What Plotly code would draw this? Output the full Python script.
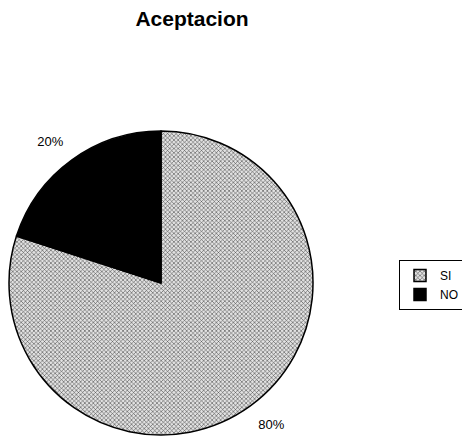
import plotly.graph_objects as go

labels = ["SI", "NO"]
values = [80, 20]
colors = ["#a8a8a8", "#000000"]
label_templates = ["\u00a0<br>%{percent:.0%}", "%{percent:.0%}<br>\u00a0"]

W, H = 462, 436
cx, cy, r = 161, 283, 152

fig = go.Figure(go.Pie(
    labels=labels,
    values=values,
    sort=False,
    direction="clockwise",
    rotation=0,
    textinfo="percent",
    texttemplate=label_templates,
    textposition="outside",
    textfont=dict(family="Liberation Sans, Arial", size=13, color="black"),
    marker=dict(
        colors=colors,
        line=dict(color="black", width=1.5),
        pattern=dict(shape=["x", ""], fgcolor="#444444", bgcolor="#e2e2e2",
                     size=3, solidity=0.33),
    ),
    domain=dict(x=[(cx - r) / W, (cx + r) / W], y=[(H - cy - r) / H, (H - cy + r) / H]),
    showlegend=True,
    hoverinfo="label+percent",
))

fig.update_layout(
    width=W, height=H,
    margin=dict(l=0, r=0, t=0, b=0, autoexpand=False),
    paper_bgcolor="white",
    plot_bgcolor="white",
    title=dict(text="<b>Aceptacion</b>", x=192 / W, xanchor="center",
               y=1 - 19 / H, yanchor="middle",
               font=dict(family="Liberation Sans, Arial", size=21, color="black")),
    legend=dict(x=399 / W, y=1 - 260 / H, xanchor="left", yanchor="top",
                bordercolor="black", borderwidth=1, itemwidth=30,
                font=dict(family="Liberation Sans, Arial", size=12, color="black")),
    font=dict(family="Liberation Sans, Arial"),
)

fig.write_html(
    "out.html",
    config={"displayModeBar": False},
    post_script="document.body.style.margin='0';document.body.style.overflow='hidden';",
)
